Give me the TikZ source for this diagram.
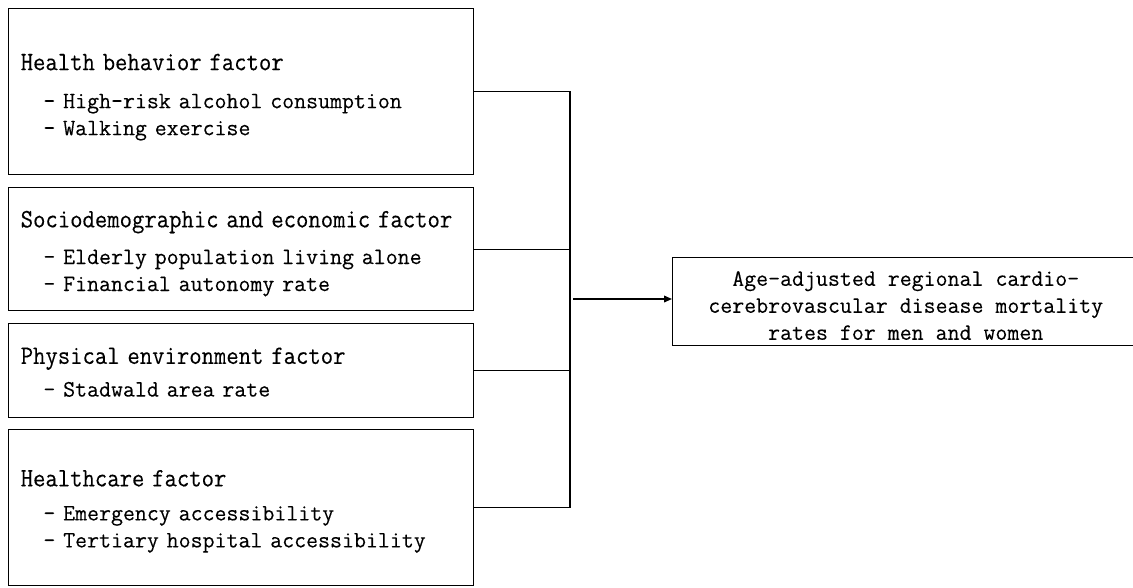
\documentclass[tikz,border=0pt]{standalone}
\usepackage{fontspec}
\usepackage{tikz}
\usetikzlibrary{arrows.meta,positioning}
\newfontfamily\headface[FakeStretch=0.905,FakeBold=0.2]{Latin Modern Mono}
\newfontfamily\itemface[FakeStretch=0.99,FakeBold=0.2]{Latin Modern Mono}
\newcommand{\headfont}{\headface\fontsize{19.9pt}{22pt}\selectfont}
\newcommand{\itemfont}{\itemface\fontsize{17.6pt}{20.25pt}\selectfont}
\newcommand{\fhead}[2]{\rule{0pt}{#1}{\headfont #2}}
\newcommand{\fitem}[1]{\hspace*{17pt}- #1}

\begin{document}
\begin{tikzpicture}[x=0.75pt,y=-0.75pt,>={Triangle[length=6pt,width=5pt]},
	factorbox/.style={draw,line width=1.1pt,anchor=north west,minimum width=348.75pt,
		text width=330.75pt,inner xsep=9pt,inner ysep=0pt,align=left,font=\itemfont},
	outcomebox/.style={draw,line width=1.1pt,anchor=north west,minimum width=349.5pt,
		minimum height=66pt,inner sep=0pt,align=center,font=\itemfont}]
	\useasboundingbox (0,0) rectangle (1133,587);
	% factor boxes
	\node[factorbox,minimum height=124.5pt] (behavior) at (8,8)
		{\fhead{20.45pt}{Health behavior factor}\\[8.25pt]
		\fitem{High-risk alcohol consumption}\\
		\fitem{Walking exercise}};
	\node[factorbox,minimum height=92.25pt] (socio) at (8,187)
		{\fhead{18.95pt}{Sociodemographic and economic factor}\\[7.25pt]
		\fitem{Elderly population living alone}\\
		\fitem{Financial autonomy rate}};
	\node[factorbox,minimum height=70.5pt] (physical) at (8,323)
		{\fhead{14.45pt}{Physical environment factor}\\[4.25pt]
		\fitem{Stadwald area rate}};
	\node[factorbox,minimum height=117pt] (care) at (8,429)
		{\fhead{17.75pt}{Healthcare factor}\\[5.25pt]
		\fitem{Emergency accessibility}\\
		\fitem{Tertiary hospital accessibility}};
	% outcome
	\node[outcomebox] (outcome) at (672,257)
		{\rule{0pt}{16.7pt}Age-adjusted regional cardio-\\
		cerebrovascular disease mortality\\
		rates for men and women};
	% bracket
	\coordinate (bar) at (570,299);
	\coordinate (armstart) at (573,299);
	\draw[line width=1.1pt] (behavior.east) -- (behavior.east -| bar) -- (care.east -| bar) -- (care.east);
	\draw[line width=1.1pt] (socio.east) -- (socio.east -| bar);
	\draw[line width=1.1pt] (physical.east) -- (physical.east -| bar);
	\draw[line width=1.1pt,->] (armstart) -- (armstart -| outcome.west);
\end{tikzpicture}
\end{document}
